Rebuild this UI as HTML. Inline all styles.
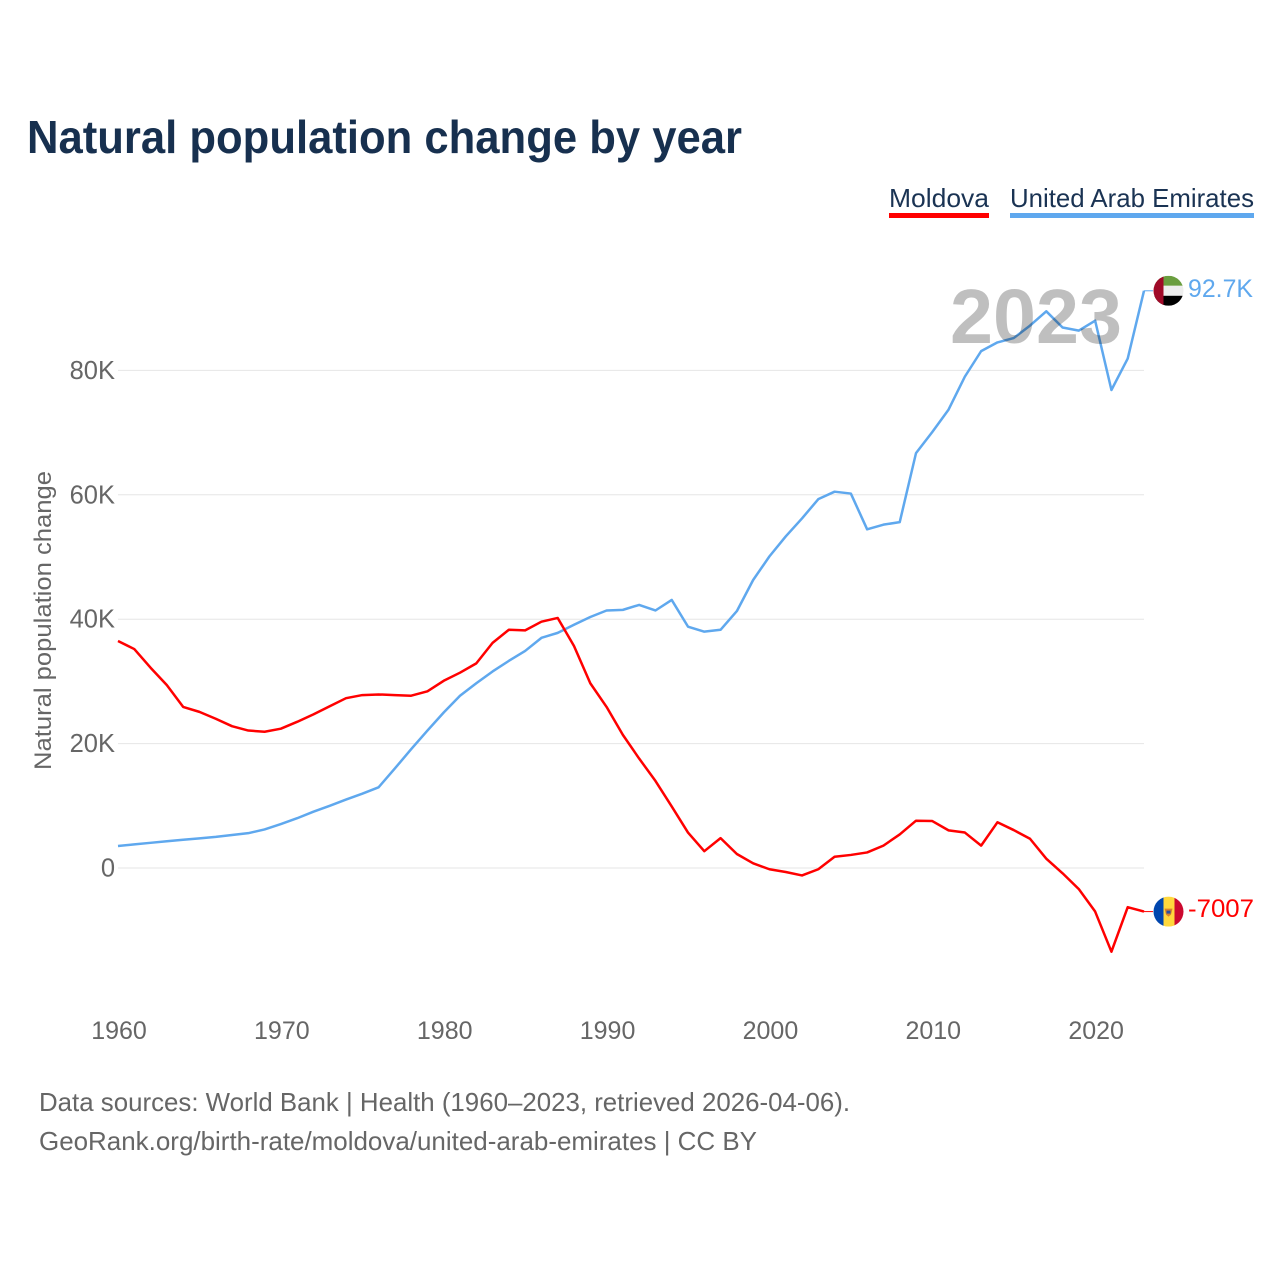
<!DOCTYPE html>
<html lang="en">
<head>
<meta charset="utf-8">
<title>Natural population change by year</title>
<style>
html,body{margin:0;padding:0;background:#fff;width:1280px;height:1280px;overflow:hidden}
svg{display:block;font-family:"Liberation Sans",sans-serif}
</style>
</head>
<body>
<svg id="chart" xmlns="http://www.w3.org/2000/svg" width="1280" height="1280" viewBox="0 0 1280 1280">
  <defs>
    <clipPath id="flag-clip"><circle cx="0" cy="0" r="15"></circle></clipPath>
  </defs>
  <rect x="0" y="0" width="1280" height="1280" fill="#ffffff"></rect>
  <text x="27" y="153" font-size="46" font-weight="700" fill="#17304f" textLength="715" lengthAdjust="spacingAndGlyphs">Natural population change by year</text>

  <g>
    <text x="889" y="207" font-size="26" fill="#1a3353" textLength="100" lengthAdjust="spacingAndGlyphs">Moldova</text>
    <rect x="889" y="213" width="100" height="5" fill="#ff0000"></rect>
    <text x="1010" y="207" font-size="26" fill="#1a3353" textLength="244" lengthAdjust="spacingAndGlyphs">United Arab Emirates</text>
    <rect x="1010" y="213" width="244" height="5" fill="#5fa8ee"></rect>
  </g>

  <text transform="translate(51,770) rotate(-90)" x="0" y="0" font-size="24" fill="#666666" textLength="299" lengthAdjust="spacingAndGlyphs">Natural population change</text>

  <g id="grid"></g>
  <g id="ylabels"></g>
  <g id="xlabels"></g>
  <g id="series"></g>

  <text x="950" y="343" font-size="77" font-weight="700" fill="rgba(0,0,0,0.25)" textLength="172" lengthAdjust="spacingAndGlyphs">2023</text>

  <g id="flag-uae">
    <g clip-path="url(#flag-clip)">
      <rect x="-15" y="-15" width="30" height="10" fill="#6a9e3f"></rect>
      <rect x="-15" y="-5" width="30" height="10" fill="#eeeeee"></rect>
      <rect x="-15" y="5" width="30" height="10" fill="#000000"></rect>
      <rect x="-15" y="-15" width="10" height="30" fill="#a00a28"></rect>
    </g>
  </g>
  <g id="flag-mda">
    <g clip-path="url(#flag-clip)">
      <rect x="-15" y="-15" width="10" height="30" fill="#0046ae"></rect>
      <rect x="-5" y="-15" width="11" height="30" fill="#ffd83d"></rect>
      <rect x="6" y="-15" width="9" height="30" fill="#cc092f"></rect>
      <polygon points="-4,-3 4,-3 2.5,3 0,5 -2.5,3" fill="#d9822b"></polygon>
      <rect x="-2" y="-1" width="4" height="3" fill="#2a4f9e"></rect>
    </g>
  </g>
  <text id="label-uae" x="1188" font-size="25" fill="#5fa8ee" textLength="65" lengthAdjust="spacingAndGlyphs"></text>
  <text id="label-mda" x="1188" font-size="25" fill="#ff0000" textLength="66" lengthAdjust="spacingAndGlyphs"></text>

  <g>
    <text x="39" y="1111" font-size="26" fill="#666666" textLength="811" lengthAdjust="spacingAndGlyphs">Data sources: World Bank | Health (1960–2023, retrieved 2026-04-06).</text>
    <text x="39" y="1150" font-size="26" fill="#666666" textLength="718" lengthAdjust="spacingAndGlyphs">GeoRank.org/birth-rate/moldova/united-arab-emirates | CC BY</text>
  </g>
</svg>
<script>
const firstYear = 1960;
const xTickYears = [1960, 1970, 1980, 1990, 2000, 2010, 2020];
const yTickValues = [0, 20, 40, 60, 80];
const yTickLabels = ['0', '20K', '40K', '60K', '80K'];
const moldovaValues = [36.5, 35.2, 32.2, 29.4, 25.9, 25.1, 24.0, 22.8, 22.1, 21.9,
  22.4, 23.5, 24.7, 26.0, 27.3, 27.8, 27.9, 27.8, 27.7, 28.4,
  30.1, 31.4, 32.9, 36.2, 38.3, 38.2, 39.6, 40.2, 35.7, 29.7,
  25.9, 21.4, 17.6, 14.0, 9.9, 5.7, 2.7, 4.8, 2.25, 0.75,
  -0.2, -0.64, -1.2, -0.2, 1.8, 2.1, 2.5, 3.6, 5.4, 7.6,
  7.55, 6.05, 5.7, 3.6, 7.35, 6.1, 4.7, 1.5, -0.85, -3.4,
  -7.0, -13.45, -6.3, -7.007];
const uaeValues = [3.54, 3.8, 4.05, 4.3, 4.55, 4.77, 5.0, 5.3, 5.6, 6.2,
  7.07, 8.0, 9.05, 10.0, 11.0, 11.95, 12.97, 16.0, 19.1, 22.1,
  25.0, 27.7, 29.7, 31.6, 33.3, 34.9, 37.0, 37.8, 39.1, 40.35,
  41.4, 41.5, 42.3, 41.4, 43.1, 38.8, 38.0, 38.3, 41.3, 46.3,
  50.1, 53.3, 56.2, 59.3, 60.5, 60.2, 54.45, 55.2, 55.6, 66.7,
  70.1, 73.7, 79.0, 83.1, 84.5, 85.2, 87.2, 89.5, 86.9, 86.4,
  88.0, 76.85, 81.9, 92.8];
const moldovaEndLabel = '-7007';
const uaeEndLabel = '92.7K';

const NS = 'http://www.w3.org/2000/svg';
const plotLeft = 118, plotRight = 1144, yZero = 868;
const pxPerYear = (plotRight - plotLeft) / 63;
const pxPerK = 6.22;
function xScale(year) { return plotLeft + (year - firstYear) * pxPerYear; }
function yScale(v) { return yZero - v * pxPerK; }
function svgEl(tag, parent) {
  const el = document.createElementNS(NS, tag);
  parent.appendChild(el);
  return el;
}

const grid = document.getElementById('grid');
const ylabels = document.getElementById('ylabels');
const xlabels = document.getElementById('xlabels');
const series = document.getElementById('series');

yTickValues.forEach(function (v, i) {
  const line = svgEl('line', grid);
  
  
  line.setAttribute('x1', plotLeft);
  line.setAttribute('x2', plotRight);
  line.setAttribute('y1', yScale(v));
  line.setAttribute('y2', yScale(v));
  line.setAttribute('stroke', '#e6e6e6');
  line.setAttribute('stroke-width', '1');
  const t = svgEl('text', ylabels);
  
  
  t.setAttribute('x', 115);
  t.setAttribute('y', yScale(v) + 8.5);
  t.setAttribute('text-anchor', 'end');
  t.setAttribute('font-size', '25.5');
  t.setAttribute('fill', '#666666');
  t.textContent = yTickLabels[i];
});

xTickYears.forEach(function (year) {
  const t = svgEl('text', xlabels);
  
  
  t.setAttribute('x', xScale(year) + 1);
  t.setAttribute('y', 1039);
  t.setAttribute('text-anchor', 'middle');
  t.setAttribute('font-size', '25');
  t.setAttribute('fill', '#666666');
  t.textContent = String(year);
});

function pathFor(values) {
  return values.map(function (v, i) {
    return (i ? 'L' : 'M') + xScale(firstYear + i).toFixed(2) + ' ' + yScale(v).toFixed(2);
  }).join(' ');
}

const uaeLine = svgEl('path', series);


uaeLine.setAttribute('d', pathFor(uaeValues));
uaeLine.setAttribute('fill', 'none');
uaeLine.setAttribute('stroke', '#5fa8ee');
uaeLine.setAttribute('stroke-width', '2.5');
uaeLine.setAttribute('stroke-linejoin', 'round');

const moldovaLine = svgEl('path', series);


moldovaLine.setAttribute('d', pathFor(moldovaValues));
moldovaLine.setAttribute('fill', 'none');
moldovaLine.setAttribute('stroke', '#ff0000');
moldovaLine.setAttribute('stroke-width', '2.5');
moldovaLine.setAttribute('stroke-linejoin', 'round');

const uaeEndY = yScale(uaeValues[uaeValues.length - 1]);
const moldovaEndY = yScale(moldovaValues[moldovaValues.length - 1]);

const uaeStub = svgEl('line', series);


uaeStub.setAttribute('x1', plotRight);
uaeStub.setAttribute('x2', 1153);
uaeStub.setAttribute('y1', uaeEndY);
uaeStub.setAttribute('y2', uaeEndY);
uaeStub.setAttribute('stroke', '#5fa8ee');
uaeStub.setAttribute('stroke-width', '1');

const moldovaStub = svgEl('line', series);


moldovaStub.setAttribute('x1', plotRight);
moldovaStub.setAttribute('x2', 1153);
moldovaStub.setAttribute('y1', moldovaEndY);
moldovaStub.setAttribute('y2', moldovaEndY);
moldovaStub.setAttribute('stroke', '#ff0000');
moldovaStub.setAttribute('stroke-width', '1');

document.getElementById('flag-uae').setAttribute('transform', 'translate(1168.5,' + uaeEndY + ')');
document.getElementById('flag-mda').setAttribute('transform', 'translate(1168.5,' + moldovaEndY + ')');
const labelUae = document.getElementById('label-uae');
labelUae.setAttribute('y', uaeEndY + 6);
labelUae.textContent = uaeEndLabel;
const labelMda = document.getElementById('label-mda');
labelMda.setAttribute('y', moldovaEndY + 5.5);
labelMda.textContent = moldovaEndLabel;
</script>
</body>
</html>
